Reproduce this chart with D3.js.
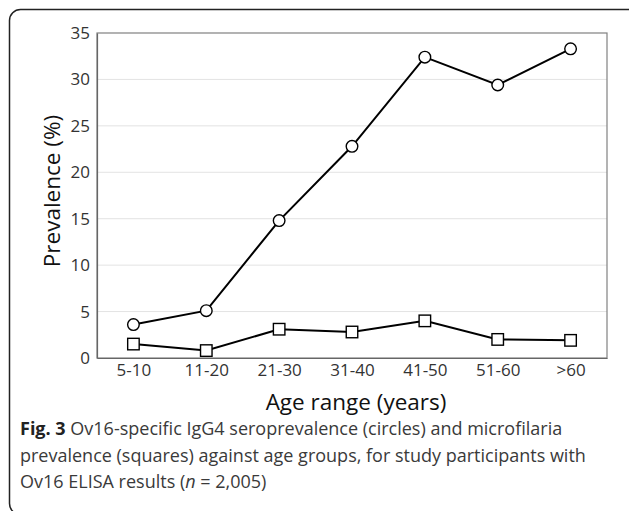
<!DOCTYPE html>
<html>
<head>
<meta charset="utf-8">
<script src="https://cdn.jsdelivr.net/npm/d3@7"></script>
<style>
  body { margin: 0; background: #fff; }
  svg { display: block; }
</style>
</head>
<body>
<svg id="svg"></svg>
<script>
// Global variables
let svg = d3.select("#svg");
const width = 629;
const height = 511;

// data
const ageGroups = ["5-10", "11-20", "21-30", "31-40", "41-50", "51-60", ">60"];
const seroValues = [3.6, 5.1, 14.8, 22.8, 32.4, 29.4, 33.3];   // circles
const mfValues = [1.5, 0.8, 3.1, 2.8, 4.0, 2.0, 1.9];          // squares
const yTicks = [0, 5, 10, 15, 20, 25, 30, 35];
const captionLines = [
    ["Fig. 3", " Ov16-specific IgG4 seroprevalence (circles) and microfilaria"],
    ["", "prevalence (squares) against age groups, for study participants with"],
    ["", "Ov16 ELISA results (", "n", " = 2,005)"]
];

const font = "'Open Sans', sans-serif";
const margin = { top: 33, right: 22, bottom: 153, left: 97 };
const chartWidth = width - margin.left - margin.right;
const chartHeight = height - margin.top - margin.bottom;

svg.attr("width", width).attr("height", height);

// outer frame (right and bottom run off the page)
svg.append("rect")
    .attr("x", 9.5)
    .attr("y", 9.5)
    .attr("width", 660)
    .attr("height", 505)
    .attr("rx", 11)
    .attr("fill", "none")
    .attr("stroke", "#222")
    .attr("stroke-width", 1.5);

let chart = svg.append("g")
    .attr("transform", "translate(" + margin.left + "," + margin.top + ")");

let x = d3.scalePoint()
    .domain(ageGroups)
    .range([0, chartWidth])
    .padding(0.5);

let y = d3.scaleLinear()
    .domain([0, 35])
    .range([chartHeight, 0]);

// gridlines
chart.append("g")
    .selectAll("line")
    .data(yTicks.filter(d => d > 0 && d < 35))
    .enter()
    .append("line")
    .attr("x1", 0)
    .attr("x2", chartWidth)
    .attr("y1", d => y(d))
    .attr("y2", d => y(d))
    .attr("stroke", "#e3e3e3")
    .attr("stroke-width", 1);

// plot border
chart.append("rect")
    .attr("x", 0)
    .attr("y", 0)
    .attr("width", chartWidth)
    .attr("height", chartHeight)
    .attr("fill", "none")
    .attr("stroke", "#808080")
    .attr("stroke-width", 1.2);

// y-axis
let yAxis = chart.append("g")
    .call(d3.axisLeft(y).tickValues(yTicks).tickSize(0).tickPadding(7));
yAxis.select(".domain").attr("stroke", "#666").attr("stroke-width", 1.2);
yAxis.selectAll("text")
    .style("font-family", font)
    .style("font-size", "17px")
    .style("fill", "#333");

// x-axis
let xAxis = chart.append("g")
    .attr("transform", "translate(0," + chartHeight + ")")
    .call(d3.axisBottom(x).tickSize(0).tickPadding(6));
xAxis.select(".domain").attr("stroke", "#666").attr("stroke-width", 1.2);
xAxis.selectAll("text")
    .style("font-family", font)
    .style("font-size", "17px")
    .style("fill", "#333");

// lines
const line = d3.line()
    .x((d, i) => x(ageGroups[i]))
    .y(d => y(d));

[seroValues, mfValues].forEach(vals => {
    chart.append("path")
        .datum(vals)
        .attr("d", line)
        .attr("fill", "none")
        .attr("stroke", "#000")
        .attr("stroke-width", 2);
});

// circle markers
chart.selectAll(".sero")
    .data(seroValues)
    .enter()
    .append("circle")
    .attr("class", "sero")
    .attr("cx", (d, i) => x(ageGroups[i]))
    .attr("cy", d => y(d))
    .attr("r", 5.8)
    .attr("fill", "#fff")
    .attr("stroke", "#000")
    .attr("stroke-width", 1.4);

// square markers
const sq = 11.5;
chart.selectAll(".mf")
    .data(mfValues)
    .enter()
    .append("rect")
    .attr("class", "mf")
    .attr("x", (d, i) => x(ageGroups[i]) - sq / 2)
    .attr("y", d => y(d) - sq / 2)
    .attr("width", sq)
    .attr("height", sq)
    .attr("fill", "#fff")
    .attr("stroke", "#000")
    .attr("stroke-width", 1.4);

// axis titles
svg.append("text")
    .attr("x", 356)
    .attr("y", 410)
    .attr("text-anchor", "middle")
    .style("font-family", font)
    .style("font-size", "22.5px")
    .style("fill", "#111")
    .text("Age range (years)");

svg.append("text")
    .attr("transform", "translate(60,191) rotate(-90)")
    .attr("text-anchor", "middle")
    .style("font-family", font)
    .style("font-size", "22.5px")
    .style("fill", "#111")
    .text("Prevalence (%)");

// caption
captionLines.forEach((parts, i) => {
    let t = svg.append("text")
        .attr("x", 20)
        .attr("y", 435 + i * 26.5)
        .style("font-family", font)
        .style("font-size", "18px")
        .style("fill", "#3a3a3a");
    parts.forEach((p, j) => {
        if (p === "") return;
        let ts = t.append("tspan").text(p);
        if (i === 0 && j === 0) ts.style("font-weight", "bold").style("fill", "#222");
        if (p === "n") ts.style("font-style", "italic");
    });
});
</script>
</body>
</html>
